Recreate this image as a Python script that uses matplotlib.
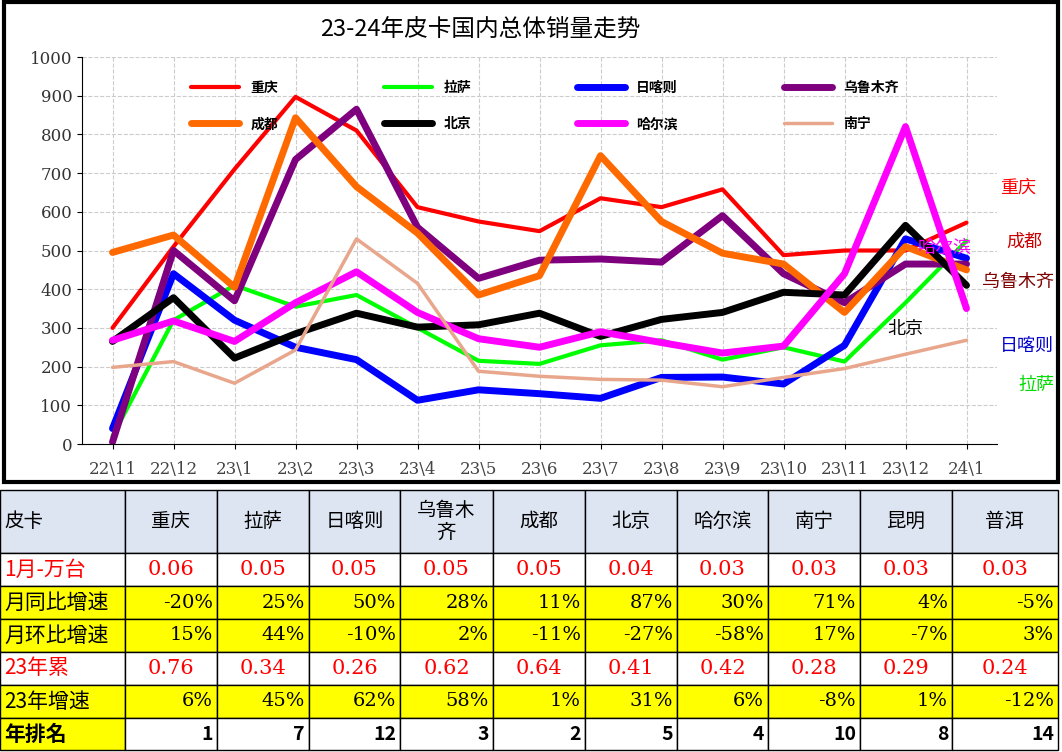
import matplotlib
matplotlib.use("Agg")
import matplotlib.pyplot as plt
from matplotlib.patches import Rectangle
from matplotlib import font_manager as fm

names = sorted({f.name for f in fm.fontManager.ttflist})
cjk = [n for n in names if 'CJK' in n and 'SC' in n] or [n for n in names if 'CJK' in n] or ['DejaVu Sans']
CJK = cjk[0]
plt.rcParams['font.family'] = [CJK, 'DejaVu Sans']

months = ['22\\11','22\\12','23\\1','23\\2','23\\3','23\\4','23\\5','23\\6','23\\7','23\\8','23\\9','23\\10','23\\11','23\\12','24\\1']
chongqing = [300, 510, 710, 897, 810, 612, 575, 550, 635, 612, 658, 488, 500, 500, 572]
lasa = [20, 320, 410, 355, 385, 300, 215, 207, 255, 268, 218, 250, 213, 365, 525]
rikaze = [40, 440, 320, 250, 218, 113, 140, 130, 118, 172, 173, 155, 255, 530, 480]
wulumuqi = [5, 500, 370, 735, 865, 560, 428, 475, 478, 470, 590, 440, 365, 465, 465]
chengdu = [495, 540, 405, 843, 665, 545, 385, 435, 745, 575, 493, 465, 340, 510, 450]
beijing = [265, 378, 222, 285, 338, 302, 308, 338, 278, 322, 340, 392, 385, 565, 410]
haerbin = [268, 318, 265, 365, 445, 340, 272, 250, 290, 262, 235, 253, 440, 820, 350]
nanning = [198, 213, 157, 243, 530, 415, 188, 175, 167, 165, 148, 172, 195, 232, 268]

table_header = ['皮卡','重庆','拉萨','日喀则','乌鲁木\n齐','成都','北京','哈尔滨','南宁','昆明','普洱']
row_labels = ['1月-万台','月同比增速','月环比增速','23年累','23年增速','年排名']
jan = ['0.06','0.05','0.05','0.05','0.05','0.04','0.03','0.03','0.03','0.03']
yoy = ['-20%','25%','50%','28%','11%','87%','30%','71%','4%','-5%']
mom = ['15%','44%','-10%','2%','-11%','-27%','-58%','17%','-7%','3%']
cum23 = ['0.76','0.34','0.26','0.62','0.64','0.41','0.42','0.28','0.29','0.24']
growth23 = ['6%','45%','62%','58%','1%','31%','6%','-8%','1%','-12%']
rank = ['1','7','12','3','2','5','4','10','8','14']

W, H = 1062, 752
fig = plt.figure(figsize=(W/100, H/100), dpi=100)

bg = fig.add_axes([0, 0, 1, 1]); bg.set_axis_off()
bg.set_xlim(0, W); bg.set_ylim(H, 0)
bg.add_patch(Rectangle((4, 2), W-8, 480, fill=False, lw=3, ec='black'))
bg.text(480, 30, '23-24年皮卡国内总体销量走势', fontsize=17, ha='center', va='center')

ax = fig.add_axes([82/W, 1-444/H, (997-82)/W, (444-57)/H])
x = list(range(len(months)))
series = [
    ('重庆', chongqing, '#ff0000', 3),
    ('拉萨', lasa, '#00ff00', 3),
    ('日喀则', rikaze, '#0000ff', 5),
    ('乌鲁木齐', wulumuqi, '#7f007f', 5),
    ('成都', chengdu, '#ff6a00', 5),
    ('北京', beijing, '#000000', 5),
    ('哈尔滨', haerbin, '#ff00ff', 5),
    ('南宁', nanning, '#e8a68c', 2.5),
]
handles = []
for name, vals, c, lw in series:
    h, = ax.plot(x, vals, color=c, lw=lw, label=name, solid_capstyle='round')
    handles.append(h)
ax.set_xlim(-0.5, len(months)-0.5)
ax.set_ylim(0, 1000)
ax.set_yticks(range(0, 1001, 100))
ax.set_xticks(x)
ax.set_xticklabels(months, fontsize=12, color='#444444', family='DejaVu Serif')
ax.tick_params(axis='x', pad=9)
for lab in ax.get_yticklabels():
    lab.set_fontsize(12); lab.set_family('DejaVu Serif'); lab.set_color('#333333')
ax.grid(True, ls='--', color='#cccccc', lw=0.8)
for s in ['top', 'right']:
    ax.spines[s].set_visible(False)
order = [0, 4, 1, 5, 2, 6, 3, 7]
ax.legend([handles[i] for i in order], [series[i][0] for i in order],
          loc='upper left', bbox_to_anchor=(0.105, 0.97), ncol=4, frameon=False,
          prop={'family': CJK, 'size': 10, 'weight': 'bold'}, handlelength=3.5,
          columnspacing=7.6, labelspacing=1.6)

ax.text(14.55, 650, '重庆', color='#ff0000', fontsize=13)
ax.text(14.65, 510, '成都', color='#cc0000', fontsize=13)
ax.text(14.25, 405, '乌鲁木齐', color='#7f0000', fontsize=13)
ax.text(14.55, 240, '日喀则', color='#0000cc', fontsize=13)
ax.text(14.85, 140, '拉萨', color='#00dd00', fontsize=13)
ax.text(13.2, 495, '哈尔滨', color='#ff00ff', fontsize=13)
ax.text(12.7, 285, '北京', color='#000000', fontsize=13)

cols = [0, 125, 217, 309, 400, 493, 585, 677, 768, 860, 952, 1058]
rows = [490, 553, 586, 619, 652, 685, 718, 750]
fills = ['#dde4f2', 'white', '#ffff00', '#ffff00', 'white', '#ffff00', 'white']
rowdata = [jan, yoy, mom, cum23, growth23, rank]
for r in range(7):
    y0, y1 = rows[r], rows[r+1]
    for c in range(11):
        x0, x1 = cols[c], cols[c+1]
        fc = fills[r]
        if r == 6 and c == 0:
            fc = '#ffff00'
        bg.add_patch(Rectangle((x0, y0), x1-x0, y1-y0, fc=fc, ec='black', lw=1))
        ym = (y0+y1)/2
        if r == 0:
            bg.text(4 if c == 0 else (x0+x1)/2, ym, table_header[c], fontsize=14,
                    ha='left' if c == 0 else 'center', va='center', linespacing=1.0)
        elif c == 0:
            col = '#ff0000' if r in (1, 4) else 'black'
            bg.text(4, ym, row_labels[r-1], fontsize=15, ha='left', va='center', color=col,
                    weight='bold' if r == 6 else 'normal')
        else:
            v = rowdata[r-1][c-1]
            if r in (1, 4):
                bg.text((x0+x1)/2, ym, v, fontsize=15, ha='center', va='center', color='#ff0000', family='DejaVu Serif')
            else:
                bg.text(x1-4, ym, v, fontsize=14, ha='right', va='center', color='black',
                        family='DejaVu Serif' if r != 6 else CJK, weight='bold' if r == 6 else 'normal')

fig.savefig('out.png', dpi=100)
